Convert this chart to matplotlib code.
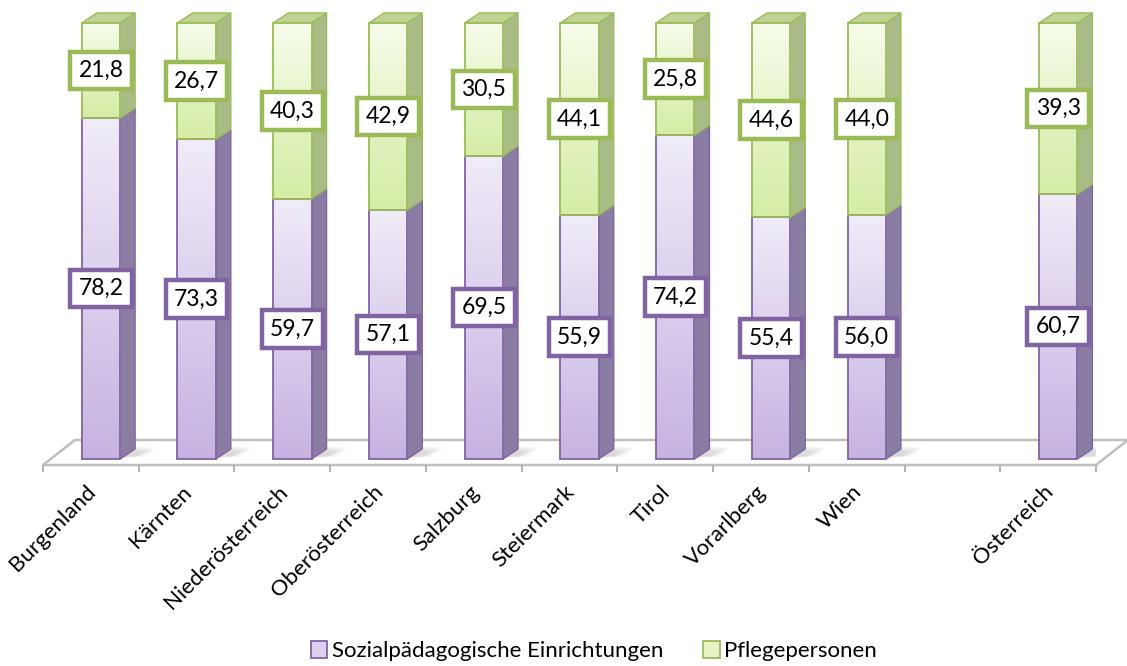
import numpy as np
import matplotlib.pyplot as plt
from matplotlib.patches import Polygon, Rectangle, Patch
from matplotlib.transforms import ScaledTranslation

plt.rcParams['font.family'] = ['Lato', 'DejaVu Sans']

regions = ["Burgenland", "Kärnten", "Niederösterreich", "Oberösterreich", "Salzburg",
           "Steiermark", "Tirol", "Vorarlberg", "Wien", "", "Österreich"]
sozial = [78.2, 73.3, 59.7, 57.1, 69.5, 55.9, 74.2, 55.4, 56.0, None, 60.7]
pflege = [21.8, 26.7, 40.3, 42.9, 30.5, 44.1, 25.8, 44.6, 44.0, None, 39.3]
series_names = ["Sozialpädagogische Einrichtungen", "Pflegepersonen"]

# colours
purple_edge = "#8064A2"
purple_light = "#F0EBF8"
purple_dark = "#C6B3E2"
purple_side = "#8A7DA3"
green_edge = "#9BBB59"
green_light = "#F6FCEA"
green_dark = "#D5ECA4"
green_side = "#A9BC86"
green_top = "#BFD494"

fig = plt.figure(figsize=(11.27, 6.66), dpi=100)
ax = fig.add_axes([43 / 1127, 201 / 666, 1053 / 1127, 455 / 666])
ax.set_xlim(-0.5, 10.5)
ax.set_ylim(-1.376, 102.98)
for s in ax.spines.values():
    s.set_visible(False)
ax.set_yticks([])

# 3D look offsets
bar_off = 0.105      # shift of front face from slot centre
bar_w = 0.40
dx, dy = 0.157, 2.3  # bar depth
fdx, fdy = 0.334, 5.74  # floor depth

# floor
floor = Polygon([(-0.5, -1.376), (10.5, -1.376), (10.5 + fdx, -1.376 + fdy), (-0.5 + fdx, -1.376 + fdy)],
                closed=True, facecolor="white", edgecolor="#BFBFBF", lw=1.8, clip_on=False, zorder=1)
ax.add_patch(floor)


def gradient_face(x0, y0, w, h, c_top, c_bot, edge, z):
    grad = np.linspace(0, 1, 64)[:, None]
    top = np.array(plt.matplotlib.colors.to_rgb(c_top))
    bot = np.array(plt.matplotlib.colors.to_rgb(c_bot))
    img = top[None, None, :] * (1 - grad[..., None]) + bot[None, None, :] * grad[..., None]
    img = np.repeat(img, 2, axis=1)
    rect = Rectangle((x0, y0), w, h, facecolor="none", edgecolor=edge, lw=1.3, zorder=z + 0.1, clip_on=False)
    ax.add_patch(rect)
    im = ax.imshow(img, extent=[x0, x0 + w, y0, y0 + h], aspect="auto", zorder=z, origin="upper")
    im.set_clip_path(rect)


for i, name in enumerate(regions):
    if sozial[i] is None:
        continue
    x0 = i + bar_off - bar_w / 2
    x1 = x0 + bar_w
    s = sozial[i]
    t = s + pflege[i]
    # shadow on floor
    for k in range(6):
        sh = Polygon([(x1 - 0.02, 0.3), (x1 + 0.25 - k * 0.02, 0.3 + 0.3),
                      (x1 + 0.38 - k * 0.03, 2.6 - k * 0.2), (x1 + 0.05, 3.0 - k * 0.2)],
                     closed=True, facecolor="#808080", edgecolor="none", alpha=0.05, zorder=2)
        ax.add_patch(sh)
    # side faces
    ax.add_patch(Polygon([(x1, 0), (x1 + dx, dy), (x1 + dx, s + dy), (x1, s)], closed=True,
                         facecolor=purple_side, edgecolor=purple_edge, lw=1, zorder=3))
    ax.add_patch(Polygon([(x1, s), (x1 + dx, s + dy), (x1 + dx, t + dy), (x1, t)], closed=True,
                         facecolor=green_side, edgecolor=green_edge, lw=1, zorder=3))
    # top face
    ax.add_patch(Polygon([(x0, t), (x0 + dx, t + dy), (x1 + dx, t + dy), (x1, t)], closed=True,
                         facecolor=green_top, edgecolor=green_edge, lw=1, zorder=3, clip_on=False))
    # front faces
    gradient_face(x0, 0, bar_w, s, purple_light, purple_dark, purple_edge, 4)
    gradient_face(x0, s, bar_w, pflege[i], green_light, green_dark, green_edge, 4)
    # value labels
    xc = i + bar_off
    ax.text(xc, s / 2, f"{s:.1f}".replace(".", ","), ha="center", va="center", fontsize=16.5, zorder=6,
            bbox=dict(boxstyle="square,pad=0.36", facecolor="white", edgecolor=purple_edge, lw=3.2))
    ax.text(xc, s + pflege[i] / 2, f"{pflege[i]:.1f}".replace(".", ","), ha="center", va="center",
            fontsize=16.5, zorder=6,
            bbox=dict(boxstyle="square,pad=0.36", facecolor="white", edgecolor=green_edge, lw=3.2))

ax.set_xlim(-0.5, 10.5)
ax.set_ylim(-1.376, 102.98)

# ticks and category labels
ax.set_xticks(np.arange(11))
ax.set_xticks(np.arange(-0.5, 11, 1), minor=True)
ax.tick_params(axis="x", which="major", length=0, pad=12)
ax.tick_params(axis="x", which="minor", length=5, color="#A6A6A6", width=1.2)
ax.set_xticklabels(regions, rotation=45, ha="right", rotation_mode="anchor", fontsize=16)
shift = ScaledTranslation(-5 / 100, 0, fig.dpi_scale_trans)
for lab in ax.get_xticklabels():
    lab.set_transform(lab.get_transform() + shift)

handles = [Patch(facecolor="#DCD0EE", edgecolor=purple_edge, lw=1.3),
           Patch(facecolor="#E4F4C4", edgecolor=green_edge, lw=1.3)]
fig.legend(handles, series_names, loc="center", bbox_to_anchor=(0.527, 0.022), ncol=2,
           frameon=False, fontsize=16, handlelength=0.75, handleheight=0.75,
           handletextpad=0.2, columnspacing=1.8)

fig.savefig("out.png", dpi=100)
